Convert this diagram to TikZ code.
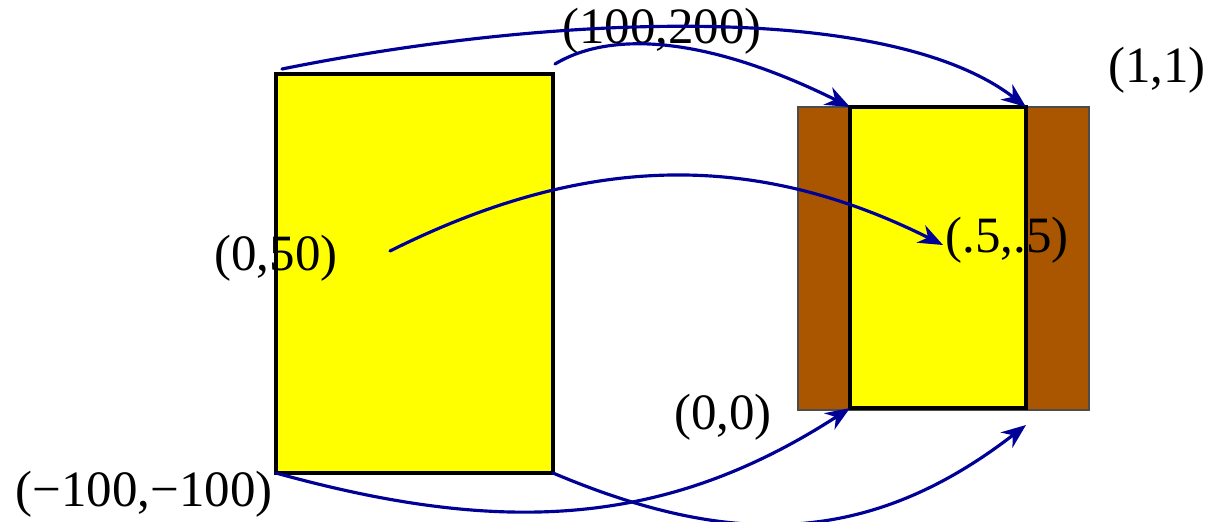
\documentclass[tikz,border=0pt]{standalone}
\usepackage{fontspec}
\setmainfont{Liberation Serif}
\usetikzlibrary{arrows.meta}
\usepackage{xcolor}
\definecolor{rust}{RGB}{170,85,0}
\definecolor{navy}{RGB}{0,0,150}
\definecolor{lemon}{RGB}{255,255,0}

\begin{document}
\begin{tikzpicture}[x=0.02cm,y=-0.02cm,>={Stealth[length=14pt,width=11pt,inset=4.5pt]},
  font=\fontsize{29}{32}\selectfont,line cap=round,
  map/.style={->,navy,line width=1.8pt},
  box/.style={draw=black,fill=lemon,line width=2pt},
  lbl/.style={inner sep=0pt}]
\useasboundingbox (0,0) rectangle (1222,521);
% source rectangle
\coordinate (sTL) at (276,74);
\coordinate (sTR) at (553,74);
\coordinate (sBL) at (276,473);
\coordinate (sBR) at (553,473);
\coordinate (sMid) at (390,251);
\coordinate (sTLa) at (282,69);
\coordinate (sTRa) at (555,64);
% unit square and its frame
\coordinate (tTL) at (850,107);
\coordinate (tTR) at (1026,107);
\coordinate (tBL) at (850,408);
\coordinate (tBR) at (1026,408);
\coordinate (tMid) at (943,245);
\coordinate (tLow) at (1026,425);
\fill[rust,draw=black!70,line width=0.6pt] (798,107) rectangle (1089,410);
\draw[box] (sTL) rectangle (sBR);
\draw[box] (tTL) rectangle (tBR);
% labels
\node[lbl] (l100) at (662,31) {(100,200)};
\node[lbl] (l11) at (1157,70) {(1,1)};
\node[lbl] (l050) at (276,258) {(0,50)};
\node[lbl] (l55) at (1007,240) {(.5,.5)};
\node[lbl] (l00) at (723,417) {(0,0)};
\node[lbl] (lm100) at (144,494) {(−100,−100)};
% the mapping
\draw[map] (sTLa) .. controls (560,13) and (890,2) .. (tTR);
\draw[map] (sTRa) .. controls (615,28) and (715,40) .. (tTL);
\draw[map] (sMid) .. controls (582,155) and (751,149) .. (tMid);
\draw[map] (sBL) .. controls (503,536) and (666,527) .. (tBL);
\draw[map] (sBR) .. controls (728,547) and (867,548) .. (tLow);
\end{tikzpicture}
\end{document}
